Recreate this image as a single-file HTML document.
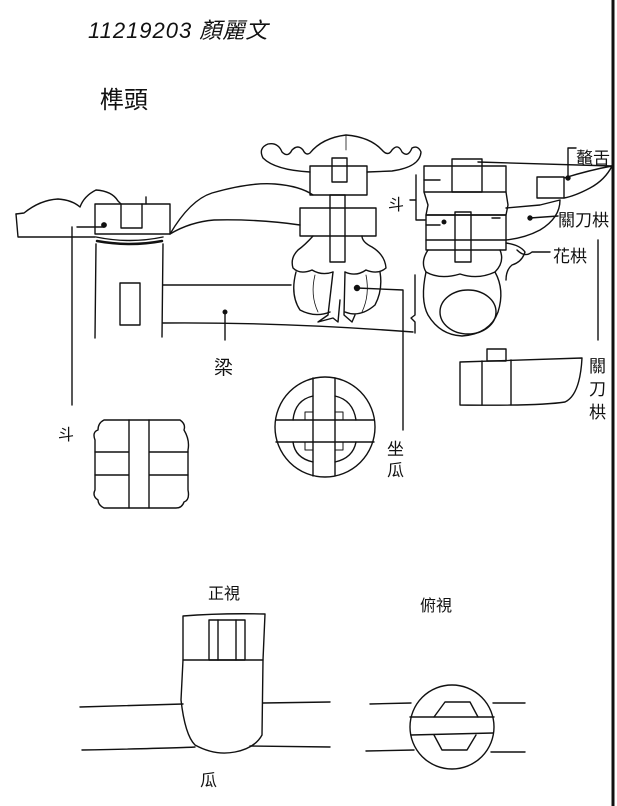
<!DOCTYPE html>
<html><head><meta charset="utf-8"><style>
html,body{margin:0;padding:0;background:#fff;}
svg{display:block;}
text{font-family:"Liberation Sans","Noto Sans CJK TC",sans-serif;fill:#111;}
</style></head><body>
<svg width="617" height="806" viewBox="0 0 617 806" xmlns="http://www.w3.org/2000/svg">
<g fill="none" stroke="#111" stroke-width="1.4" stroke-linejoin="round" stroke-linecap="round">
<!-- right page edge -->
<line x1="613" y1="0" x2="613" y2="806" stroke-width="3"/>

<!-- LEFT beam end -->
<path d="M16,214 L24,213 Q40,200 58,199 Q72,200 80,207 Q84,196 96,190 Q112,191 118,201 L121,204"/>
<path d="M16,214 L18,237 L95,237"/>
<rect x="95" y="204" width="75" height="30"/>
<path d="M121,204 L121,228 L142,228 L142,204"/>
<path d="M146,204 L146,197"/>
<path d="M96,237 Q130,244 163,237"/>
<path d="M97,241 Q130,247 162,241" stroke-width="2.5"/>
<path d="M96,244 L95,338"/>
<path d="M163,244 L162,337"/>
<rect x="120" y="283" width="20" height="42"/>
<path d="M77,227 L104,227"/>
<circle cx="104" cy="225" r="2.2" fill="#111"/>
<path d="M72,227 L72,405"/>

<!-- beam lines -->
<path d="M170,234 Q190,200 212,193 Q250,182 275,184 Q300,186 313,195"/>
<path d="M170,234 Q190,222 214,220 Q260,219 300,225"/>
<path d="M163,285 L291,285"/>
<path d="M163,323 Q280,322 413,332"/>
<path d="M478,162 L612,166"/>
<circle cx="225" cy="312" r="1.8" fill="#111"/>
<path d="M225,312 L225,340"/>

<!-- CENTER cloud top -->
<path d="M310,172 Q275,170 263,158 Q258,148 268,144 Q278,142 282,152 Q288,158 292,150 Q298,144 303,150 Q306,156 310,153 Q322,138 346,135 Q370,137 382,150 Q388,157 392,150 Q398,143 402,152 Q408,158 412,148 Q418,145 421,152 Q420,167 392,171 L367,172"/>
<path d="M346,135 L346,150" stroke-width="0.8"/>
<rect x="310" y="166" width="57" height="29"/>
<rect x="332" y="158" width="15" height="24"/>
<rect x="300" y="208" width="76" height="28"/>
<rect x="330" y="195" width="15" height="67"/>
<path d="M313,236 Q305,245 298,250 Q290,258 293,268 Q300,275 312,270 Q322,276 333,272 M345,272 Q356,277 366,270 Q378,275 386,268 Q385,255 372,247 Q362,242 362,236"/>
<path d="M296,272 Q290,295 300,310 Q315,318 330,312 M345,312 Q360,318 375,305 Q383,290 380,272"/>
<path d="M333,272 L328,315 L318,322 L333,318 L338,322 L340,300 M345,272 L344,315 L352,322 L355,315"/>
<path d="M315,275 Q310,295 318,312" stroke-width="0.8"/>
<path d="M366,275 Q370,295 362,312" stroke-width="0.8"/>
<circle cx="357" cy="288" r="2.5" fill="#111"/>
<path d="M357,288 L403,290 L403,430"/>

<!-- 斗 right bracket -->
<path d="M410,200 L416,200 M416,175 L416,220 L425,220"/>
<path d="M415,275 L415,315 L411,318 L415,322 L415,333"/>

<!-- RIGHT bracket cluster -->
<rect x="424" y="166" width="82" height="26"/>
<rect x="452" y="159" width="30" height="33"/>
<path d="M424,180 L440,180"/>
<path d="M424,192 L428,205 L426,215 L506,215 L508,205 L506,192"/>
<rect x="426" y="215" width="80" height="25"/>
<rect x="455" y="212" width="16" height="50"/>
<path d="M426,225 L440,225 M492,218 L500,218"/>
<circle cx="444" cy="222" r="1.8" fill="#111"/>
<path d="M426,240 L426,250 L506,250 L506,240"/>
<path d="M428,250 Q420,262 426,272 Q440,280 460,274 Q478,280 495,272 Q505,262 500,250"/>
<path d="M426,272 Q420,300 428,315 Q440,335 462,336 Q490,334 498,312 Q505,290 495,272"/>
<ellipse cx="468" cy="312" rx="28" ry="22"/>
<!-- right wing -->
<rect x="537" y="177" width="27" height="21"/>
<path d="M564,178 Q590,170 612,166 Q605,180 590,188 Q575,196 564,198"/>
<circle cx="568" cy="178" r="2" fill="#111"/>
<path d="M568,178 L568,148 L576,148"/>
<path d="M506,208 L540,205 L560,200 Q560,218 540,230 Q525,238 506,240"/>
<circle cx="530" cy="218" r="2" fill="#111"/>
<path d="M530,218 L558,216"/>
<path d="M506,243 Q520,245 525,252 Q522,262 512,265 Q506,270 506,280"/>
<path d="M517,250 Q525,258 532,252 L550,252"/>
<path d="M598,240 L598,340"/>

<!-- small 關刀栱 block -->
<path d="M460,362 L582,358 Q580,395 565,402 Q540,406 460,405 Z"/>
<rect x="487" y="349" width="19" height="12"/>
<path d="M482,361 L482,405 M511,360 L511,405"/>

<!-- 斗 square -->
<path d="M104,420 L180,420 Q186,424 184,430 Q190,440 188,450 L188,490 Q190,500 184,502 Q182,508 176,508 L104,508 Q98,505 98,500 Q92,496 95,490 L95,440 Q92,432 98,430 Q98,423 104,420 Z"/>
<path d="M129,420 L129,508 M149,420 L149,508 M95,452 L129,452 M149,452 L188,452 M95,475 L129,475 M149,475 L188,475"/>
<path d="M129,452 L149,452 M129,475 L149,475" stroke="none"/>

<!-- 坐瓜 circle -->
<circle cx="325" cy="427" r="50"/>
<path d="M313,378 L313,476 M335,378 L335,476 M276,420 L374,420 M276,442 L374,442"/>
<path d="M313,396 Q295,400 293,420 M335,396 Q353,400 356,420 M313,462 Q295,458 293,442 M335,462 Q353,458 356,442"/>
<path d="M305,412 L313,412 M305,412 L305,420 M335,412 L343,412 L343,420 M305,442 L305,450 L313,450 M335,450 L343,450 L343,442" stroke-width="1"/>

<!-- Front view -->
<path d="M183,616 Q220,613 265,614 L263,660 L183,660 Z"/>
<rect x="209" y="620" width="36" height="40"/>
<path d="M218,620 L218,660 M236,620 L236,660"/>
<path d="M183,660 L181,700 Q185,735 195,745 Q215,756 235,752 Q255,748 262,735 L263,660"/>
<path d="M80,707 L183,704 M263,703 L330,702"/>
<path d="M82,750 Q180,748 195,747 M250,746 L330,747"/>

<!-- Top view -->
<circle cx="452" cy="727" r="42"/>
<path d="M370,704 L411,703 M493,703 L525,703"/>
<path d="M366,751 L414,750 M491,752 L525,752"/>
<path d="M434,717 L445,702 L470,702 L478,717 M434,735 L442,750 L467,750 L476,735"/>
<path d="M410,717 L494,717 M411,735 L493,733"/>
</g>

<!-- Text -->
<text x="88" y="38" font-size="22" font-style="italic" letter-spacing="1">11219203 顏麗文</text>
<text x="100" y="108" font-size="24">榫頭</text>
<text x="576" y="164" font-size="17">鼇舌</text>
<text x="558" y="226" font-size="17">關刀栱</text>
<text x="553" y="262" font-size="17">花栱</text>
<text x="388" y="210" font-size="16">斗</text>
<text x="589" y="372" font-size="17">關</text>
<text x="589" y="395" font-size="17">刀</text>
<text x="589" y="418" font-size="17">栱</text>
<text x="214" y="374" font-size="19">梁</text>
<text x="58" y="440" font-size="16">斗</text>
<text x="387" y="455" font-size="17">坐</text>
<text x="387" y="476" font-size="17">瓜</text>
<text x="208" y="599" font-size="16">正視</text>
<text x="420" y="611" font-size="16">俯視</text>
<text x="200" y="786" font-size="17">瓜</text>
</svg>
</body></html>
